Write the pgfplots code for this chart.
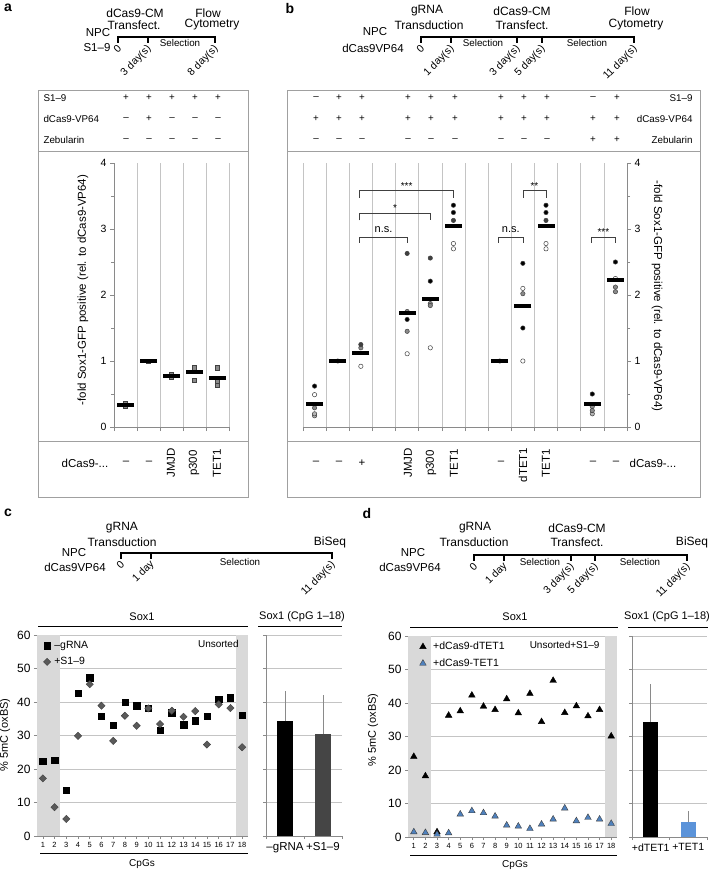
\documentclass[border=0pt]{standalone}
\usepackage{pgfplots}
\pgfplotsset{compat=1.18}
\usepackage{fontspec}
\setmainfont{Liberation Sans}
\definecolor{gridc}{HTML}{C4C4C4}
\definecolor{shadec}{HTML}{D9D9D9}
\definecolor{darkg}{HTML}{404040}
\definecolor{midg}{HTML}{8A8A8A}
\definecolor{lightg}{HTML}{B4B4B4}
\definecolor{tblue}{HTML}{4F81BD}
\definecolor{bblue}{HTML}{5B93D9}
\definecolor{boxc}{HTML}{A0A0A0}
\definecolor{diag}{HTML}{5A5A5A}
\definecolor{barg}{HTML}{454545}
\newcommand\fs[1]{\fontsize{#1}{#1}\selectfont}

\pgfplotsset{
  foldaxis/.style={
    scale only axis, height=264pt, ymin=0, ymax=4,
    xticklabels={}, xmajorgrids,
    major grid style={gridc, line width=0.7pt},
    ytick={0,1,2,3,4}, minor ytick={0.5,1.5,2.5,3.5},
    tick align=outside, major tick length=4pt, minor tick length=3pt,
    axis line style={-, midg, line width=0.7pt},
    tick style={midg, line width=0.7pt},
    yticklabel style={font=\fs{10.5}},
    /pgf/number format/assume math mode=true,
    clip=false,
  },
  medbar/.style={only marks, mark=-, mark size=8.5pt, mark options={line width=4pt, draw=black}},
  dotp/.style={only marks, mark=*, mark size=2.2pt, mark options={draw=darkg, line width=0.5pt, fill=#1}},
  pctaxis/.style={
    scale only axis, height=201pt, ymin=0, ymax=60, ytick={0,10,...,60},
    ymajorgrids, major grid style={gridc, line width=0.7pt},
    axis x line*=bottom, axis y line*=left,
    axis line style={-, midg, line width=0.7pt},
    tick align=outside, major tick length=3pt,
    tick style={midg, line width=0.7pt},
    /pgf/number format/assume math mode=true,
    clip=false,
  },
  smalllegend/.style={legend image code/.code={\draw[mark repeat=2,mark phase=2,##1] plot coordinates {(0cm,0cm) (0.12cm,0cm) (0.24cm,0cm)};}},
}

\begin{document}
\begin{tikzpicture}
\useasboundingbox (0,0) rectangle (718pt,-872pt);
\begin{scope}[x=1pt,y=-1pt]
% ---------- panel letters
\node[font=\fs{14}\bfseries] at (8,8) {a};
\node[font=\fs{14}\bfseries] at (290,8) {b};
\node[font=\fs{14}\bfseries] at (8,513) {c};
\node[font=\fs{14}\bfseries] at (367,513) {d};

% ---------- timeline a
\begin{scope}[font=\fs{12}]
\node at (135,13) {dCas9-CM};
\node at (134,25) {Transfect.};
\node at (208,13) {Flow};
\node at (212,25) {Cytometry};
\end{scope}
\begin{scope}[font=\fs{11.5}]
\node at (98,33) {NPC};
\node at (97,48) {S1–9};
\end{scope}
\node[font=\fs{9.8}] at (180,43) {Selection};
\draw[line width=2.4pt] (118,37) -- (215,37);
\foreach \t in {118,148,215} \draw[line width=2.4pt] (\t,36) -- (\t,43);
\begin{scope}[font=\fs{10.5}]
\node[rotate=45,anchor=east,inner sep=0.5pt] at (120,46) {0};
\node[rotate=45,anchor=east,inner sep=0.5pt] at (150,47) {3 day(s)};
\node[rotate=45,anchor=east,inner sep=0.5pt] at (217,47) {8 day(s)};
\end{scope}

% ---------- timeline b
\begin{scope}[font=\fs{12}]
\node at (427,11) {gRNA};
\node at (429,25) {Transduction};
\node at (522,11) {dCas9-CM};
\node at (522,25) {Transfect.};
\node at (637,11) {Flow};
\node at (636,25) {Cytometry};
\end{scope}
\begin{scope}[font=\fs{11.5}]
\node at (375,32) {NPC};
\node at (373,48) {dCas9VP64};
\end{scope}
\node[font=\fs{9.8}] at (483,43) {Selection};
\node[font=\fs{9.8}] at (587,43) {Selection};
\draw[line width=2.4pt] (421,37) -- (634,37);
\foreach \t in {421,451,517,542,634} \draw[line width=2.4pt] (\t,36) -- (\t,43);
\begin{scope}[font=\fs{10.5}]
\node[rotate=45,anchor=east,inner sep=0.5pt] at (423,46) {0};
\node[rotate=45,anchor=east,inner sep=0.5pt] at (453,47) {1 day(s)};
\node[rotate=45,anchor=east,inner sep=0.5pt] at (519,47) {3 day(s)};
\node[rotate=45,anchor=east,inner sep=0.5pt] at (544,47) {5 day(s)};
\node[rotate=45,anchor=east,inner sep=0.5pt] at (636,47) {11 day(s)};
\end{scope}

% ---------- box a
\draw[boxc, line width=0.8pt] (38,90) rectangle (248,497);
\draw[boxc, line width=0.8pt] (38,151) -- (248,151);
\draw[boxc, line width=0.8pt] (38,441) -- (248,441);
\begin{scope}[font=\fs{9.8}]
\node[anchor=west] at (40,98) {S1–9};
\node[anchor=west] at (40,119) {dCas9-VP64};
\node[anchor=west] at (40,140) {Zebularin};
\foreach \x/\s in {126/+,149/+,172/+,195/+,218/+} \node at (\x,98) {\s};
\foreach \x/\s in {126/–,149/+,172/–,195/–,218/–} \node at (\x,119) {\s};
\foreach \x/\s in {126/–,149/–,172/–,195/–,218/–} \node at (\x,140) {\s};
\end{scope}
\begin{scope}[font=\fs{11.5}]
\node at (85,463) {dCas9-...};
\node at (126,463) {–};
\node at (149,463) {–};
\node[rotate=90] at (171,463) {JMJD};
\node[rotate=90] at (194,463) {p300};
\node[rotate=90] at (217,463) {TET1};
\end{scope}
\node[rotate=90, font=\fs{11.5}] at (83,290) {-fold Sox1-GFP positive (rel. to dCas9-VP64)};

% ---------- box b
\draw[boxc, line width=0.8pt] (287,90) rectangle (700,497);
\draw[boxc, line width=0.8pt] (287,151) -- (700,151);
\draw[boxc, line width=0.8pt] (287,441) -- (700,441);
\begin{scope}[font=\fs{9.8}]
\node[anchor=east] at (696,98) {S1–9};
\node[anchor=east] at (696,119) {dCas9-VP64};
\node[anchor=east] at (696,140) {Zebularin};
\foreach \x/\s in {316/–,339/+,362/+,408/+,431/+,455/+,501/+,524/+,547/+,593/–,617/+} \node at (\x,98) {\s};
\foreach \x/\s in {316/+,339/+,362/+,408/+,431/+,455/+,501/+,524/+,547/+,593/+,617/+} \node at (\x,119) {\s};
\foreach \x/\s in {316/–,339/–,362/–,408/–,431/–,455/–,501/–,524/–,547/–,593/+,617/+} \node at (\x,140) {\s};
\end{scope}
\begin{scope}[font=\fs{11.5}]
\node at (316,463) {–};
\node at (339,463) {–};
\node at (362,463) {+};
\node[rotate=90] at (408,463) {JMJD};
\node[rotate=90] at (431,463) {p300};
\node[rotate=90] at (454,463) {TET1};
\node at (501,463) {–};
\node[rotate=90] at (523,465) {dTET1};
\node[rotate=90] at (546,463) {TET1};
\node at (593,463) {–};
\node at (616,463) {–};
\node at (653,463) {dCas9-...};
\end{scope}
\node[rotate=-90, font=\fs{11.5}] at (657,296) {-fold Sox1-GFP positive (rel. to dCas9-VP64)};

% ---------- timeline c
\begin{scope}[font=\fs{12}]
\node at (122,528) {gRNA};
\node at (122,542) {Transduction};
\node at (330,542) {BiSeq};
\end{scope}
\begin{scope}[font=\fs{11.5}]
\node at (74,553) {NPC};
\node at (75,567) {dCas9VP64};
\end{scope}
\node[font=\fs{9.8}] at (240,562) {Selection};
\draw[line width=2.4pt] (121,553) -- (332,553);
\foreach \t in {121,151,332} \draw[line width=2.4pt] (\t,552) -- (\t,559);
\begin{scope}[font=\fs{10.5}]
\node[rotate=45,anchor=east,inner sep=0.5pt] at (123,562) {0};
\node[rotate=45,anchor=east,inner sep=0.5pt] at (153,562) {1 day};
\node[rotate=45,anchor=east,inner sep=0.5pt] at (334,563) {11 day(s)};
\end{scope}

% ---------- timeline d
\begin{scope}[font=\fs{12}]
\node at (475,528) {gRNA};
\node at (474,542) {Transduction};
\node at (577,528) {dCas9-CM};
\node at (577,542) {Transfect.};
\node at (692,542) {BiSeq};
\end{scope}
\begin{scope}[font=\fs{11.5}]
\node at (413,553) {NPC};
\node at (410,567) {dCas9VP64};
\end{scope}
\node[font=\fs{9.8}] at (540,562) {Selection};
\node[font=\fs{9.8}] at (640,562) {Selection};
\draw[line width=2.4pt] (474,555) -- (687,555);
\foreach \t in {474,504,571,595,687} \draw[line width=2.4pt] (\t,554) -- (\t,561);
\begin{scope}[font=\fs{10.5}]
\node[rotate=45,anchor=east,inner sep=0.5pt] at (476,564) {0};
\node[rotate=45,anchor=east,inner sep=0.5pt] at (506,564) {1 day};
\node[rotate=45,anchor=east,inner sep=0.5pt] at (573,565) {3 day(s)};
\node[rotate=45,anchor=east,inner sep=0.5pt] at (597,565) {5 day(s)};
\node[rotate=45,anchor=east,inner sep=0.5pt] at (689,565) {11 day(s)};
\end{scope}

% ---------- c / d decorations
\draw[line width=0.9pt] (38,626) -- (248,626);
\node[font=\fs{11}] at (142,617) {Sox1};
\draw[line width=0.9pt] (258,626) -- (342,626);
\node[font=\fs{11}] at (302,617) {Sox1 (CpG 1–18)};
\draw[line width=0.9pt] (40,853) -- (248,853);
\node[font=\fs{10}] at (142,864) {CpGs};
\node[rotate=90, font=\fs{11}] at (5,735) {\% 5mC (oxBS)};

\draw[line width=0.9pt] (410,627) -- (618,627);
\node[font=\fs{11}] at (515,617) {Sox1};
\draw[line width=0.9pt] (628,627) -- (708,627);
\node[font=\fs{11}] at (667,617) {Sox1 (CpG 1–18)};
\draw[line width=0.9pt] (410,855) -- (617,855);
\node[font=\fs{10}] at (515,865) {CpGs};
\node[rotate=90, font=\fs{11}] at (373,730) {\% 5mC (oxBS)};
\end{scope}

% =============== AXIS a
\begin{axis}[foldaxis, at={(114pt,-427pt)}, anchor=south west, width=115pt,
  xmin=0, xmax=5, xtick={0,...,5}, axis x line*=bottom, axis y line*=left]
\addplot[only marks, mark=square*, mark size=2.2pt, mark options={fill=midg, draw=darkg, line width=0.5pt}]
  coordinates {(0.5,0.31)(0.5,0.35)(1.5,1.0)(2.5,0.79)(2.5,0.75)(3.5,0.90)(3.5,0.71)(4.5,0.90)(4.5,0.69)(4.5,0.63)};
\addplot[medbar] coordinates {(0.5,0.33)(1.5,1.0)(2.5,0.77)(3.5,0.84)(4.5,0.75)};
\end{axis}

% =============== AXIS b
\begin{axis}[foldaxis, at={(303pt,-427pt)}, anchor=south west, width=324pt,
  xmin=0, xmax=14, xtick={0,...,14}, axis x line*=bottom, axis y line*=right]
\addplot[dotp=white] coordinates {(0.5,0.49)(1.5,1.0)(2.5,0.92)(4.5,1.11)(5.5,1.20)(6.5,2.70)(6.5,2.78)(8.5,1.0)(9.5,2.10)(9.5,1.00)(10.5,2.70)(10.5,2.78)(13.5,2.25)};
\addplot[dotp=lightg] coordinates {(0.5,0.17)(0.5,0.20)(12.5,0.20)};
\addplot[dotp=midg] coordinates {(0.5,0.29)(2.5,1.20)(4.5,1.75)(4.5,1.45)(5.5,1.87)(5.5,1.84)(9.5,2.02)(12.5,0.31)(12.5,0.25)(13.5,2.12)(13.5,2.05)};
\addplot[dotp=darkg] coordinates {(2.5,1.25)(4.5,2.63)(5.5,2.56)(6.5,3.13)(10.5,3.13)};
\addplot[dotp=black] coordinates {(0.5,0.62)(4.5,1.63)(5.5,2.21)(6.5,3.36)(6.5,3.25)(9.5,2.48)(9.5,1.50)(10.5,3.36)(10.5,3.25)(12.5,0.50)(13.5,2.50)};
\addplot[medbar] coordinates {(0.5,0.35)(1.5,1.0)(2.5,1.12)(4.5,1.72)(5.5,1.94)(6.5,3.04)(8.5,1.0)(9.5,1.83)(10.5,3.04)(12.5,0.35)(13.5,2.23)};
\draw[darkg, line width=0.6pt] (axis cs:2.45,3.47) |- (axis cs:6.5,3.58) -- (axis cs:6.5,3.47);
\draw[darkg, line width=0.6pt] (axis cs:2.45,3.13) |- (axis cs:5.5,3.24) -- (axis cs:5.5,3.13);
\draw[darkg, line width=0.6pt] (axis cs:2.45,2.79) |- (axis cs:4.5,2.88) -- (axis cs:4.5,2.79);
\draw[darkg, line width=0.6pt] (axis cs:8.45,2.79) |- (axis cs:9.5,2.88) -- (axis cs:9.5,2.79);
\draw[darkg, line width=0.6pt] (axis cs:9.5,3.47) |- (axis cs:10.5,3.58) -- (axis cs:10.5,3.47);
\draw[darkg, line width=0.6pt] (axis cs:12.45,2.79) |- (axis cs:13.5,2.88) -- (axis cs:13.5,2.79);
\node[anchor=base, font=\fs{10}] at (axis cs:4.48,3.60) {***};
\node[anchor=base, font=\fs{10}] at (axis cs:3.98,3.26) {*};
\node[anchor=base, font=\fs{11}] at (axis cs:3.48,2.95) {n.s.};
\node[anchor=base, font=\fs{11}] at (axis cs:8.98,2.95) {n.s.};
\node[anchor=base, font=\fs{10}] at (axis cs:10.0,3.60) {**};
\node[anchor=base, font=\fs{10}] at (axis cs:12.98,2.90) {***};
\end{axis}

% =============== AXIS c scatter
\begin{axis}[pctaxis, smalllegend, at={(37pt,-836pt)}, anchor=south west, width=211pt,
  xmin=0.5, xmax=18.5, xtick={1,...,18},
  xticklabel style={font=\fs{7.5}}, yticklabel style={font=\fs{12}},
  legend style={at={(0.025,0.985)}, anchor=north west, draw=none, fill=none, font=\fs{10.5}, inner sep=1pt, row sep=3.5pt,
    /tikz/every odd column/.append style={column sep=1.5pt}},
  legend cell align=left]
\fill[shadec] (axis cs:0.5,0) rectangle (axis cs:2.5,60);
\fill[shadec] (axis cs:17.5,0) rectangle (axis cs:18.5,60);
\addplot[only marks, mark=square*, mark size=3.2pt, mark options={fill=black, draw=black}]
  coordinates {(1,22.3)(2,22.7)(3,13.7)(4,42.7)(5,47.2)(6,35.7)(7,33.0)(8,40.0)(9,38.9)(10,38.1)(11,31.6)(12,36.8)(13,33.2)(14,34.4)(15,35.7)(16,40.9)(17,41.3)(18,36.0)};
\addlegendentry{–gRNA}
\addplot[only marks, mark=square*, mark size=2.6pt, mark options={rotate=45, fill=diag, draw=darkg, line width=0.4pt}]
  coordinates {(1,17.2)(2,8.6)(3,5.1)(4,29.9)(5,45.3)(6,38.9)(7,28.4)(8,35.9)(9,32.9)(10,38.1)(11,33.4)(12,37.4)(13,35.6)(14,37.3)(15,27.3)(16,39.3)(17,38.2)(18,26.5)};
\addlegendentry{+S1–9}
\node[anchor=east, font=\fs{10}] at (axis cs:18.0,57.2) {Unsorted};
\end{axis}

% =============== AXIS c bars
\begin{axis}[pctaxis, at={(266pt,-836pt)}, anchor=south west, width=76pt,
  xmin=0, xmax=2, xtick={0.5,1.5}, xticklabels={–gRNA,+S1–9}, yticklabels={},
  xtick style={draw=none}, xticklabel style={font=\fs{11.5}},
  extra x ticks={0,1,2}, extra x tick labels={}, extra x tick style={xtick style={draw=midg}}]
\addplot[ybar, bar width=15.5pt, bar shift=0pt, fill=black, draw=none,
  error bars/.cd, y dir=plus, y explicit, error bar style={midg, line width=0.7pt},
  error mark options={midg, mark size=2.5pt, line width=0.7pt}]
  coordinates {(0.5,34.3) +- (0,8.1)};
\addplot[ybar, bar width=15.5pt, bar shift=0pt, fill=barg, draw=none,
  error bars/.cd, y dir=plus, y explicit, error bar style={midg, line width=0.7pt},
  error mark options={midg, mark size=2.5pt, line width=0.7pt}]
  coordinates {(1.5,30.4) +- (0,10.8)};
\end{axis}

% =============== AXIS d scatter
\begin{axis}[pctaxis, smalllegend, at={(408pt,-837pt)}, anchor=south west, width=209pt,
  xmin=0.5, xmax=18.5, xtick={1,...,18},
  xticklabel style={font=\fs{7.5}}, yticklabel style={font=\fs{12}},
  legend style={at={(0.05,0.985)}, anchor=north west, draw=none, fill=none, font=\fs{10.5}, inner sep=1pt, row sep=3.5pt,
    /tikz/every odd column/.append style={column sep=5pt}},
  legend cell align=left]
\fill[shadec] (axis cs:0.5,0) rectangle (axis cs:2.5,60);
\fill[shadec] (axis cs:17.5,0) rectangle (axis cs:18.5,60);
\addplot[only marks, mark=triangle*, mark size=3.8pt, mark options={fill=black, draw=black}]
  coordinates {(1,24.0)(2,18.2)(3,1.5)(4,36.3)(5,37.6)(6,42.3)(7,39.0)(8,38.0)(9,41.2)(10,37.0)(11,42.8)(12,34.4)(13,46.7)(14,37.1)(15,39.1)(16,36.1)(17,38.0)(18,30.1)};
\addlegendentry{+dCas9-dTET1}
\addplot[only marks, mark=triangle*, mark size=3.8pt, mark options={fill=tblue, draw=darkg, line width=0.4pt}]
  coordinates {(1,1.5)(2,1.3)(3,0.8)(4,1.2)(5,6.8)(6,7.8)(7,7.2)(8,6.2)(9,3.5)(10,3.2)(11,2.5)(12,3.8)(13,5.3)(14,8.6)(15,4.8)(16,5.8)(17,5.3)(18,4.0)};
\addlegendentry{+dCas9-TET1}
\node[anchor=east, font=\fs{10}] at (axis cs:17.3,57.2) {Unsorted+S1–9};
\end{axis}

% =============== AXIS d bars
\begin{axis}[pctaxis, at={(632pt,-837pt)}, anchor=south west, width=75pt,
  xmin=0, xmax=2, xtick={0.5,1.5}, xticklabels={+dTET1,+TET1}, yticklabels={},
  xtick style={draw=none}, xticklabel style={font=\fs{10.5}},
  extra x ticks={0,1,2}, extra x tick labels={}, extra x tick style={xtick style={draw=midg}}]
\addplot[ybar, bar width=15pt, bar shift=0pt, fill=black, draw=none,
  error bars/.cd, y dir=plus, y explicit, error bar style={midg, line width=0.7pt},
  error mark options={midg, mark size=2.5pt, line width=0.7pt}]
  coordinates {(0.5,34.3) +- (0,10.6)};
\addplot[ybar, bar width=15pt, bar shift=0pt, fill=bblue, draw=none,
  error bars/.cd, y dir=plus, y explicit, error bar style={midg, line width=0.7pt},
  error mark options={midg, mark size=2.5pt, line width=0.7pt}]
  coordinates {(1.5,4.4) +- (0,2.5)};
\end{axis}
\end{tikzpicture}
\end{document}
